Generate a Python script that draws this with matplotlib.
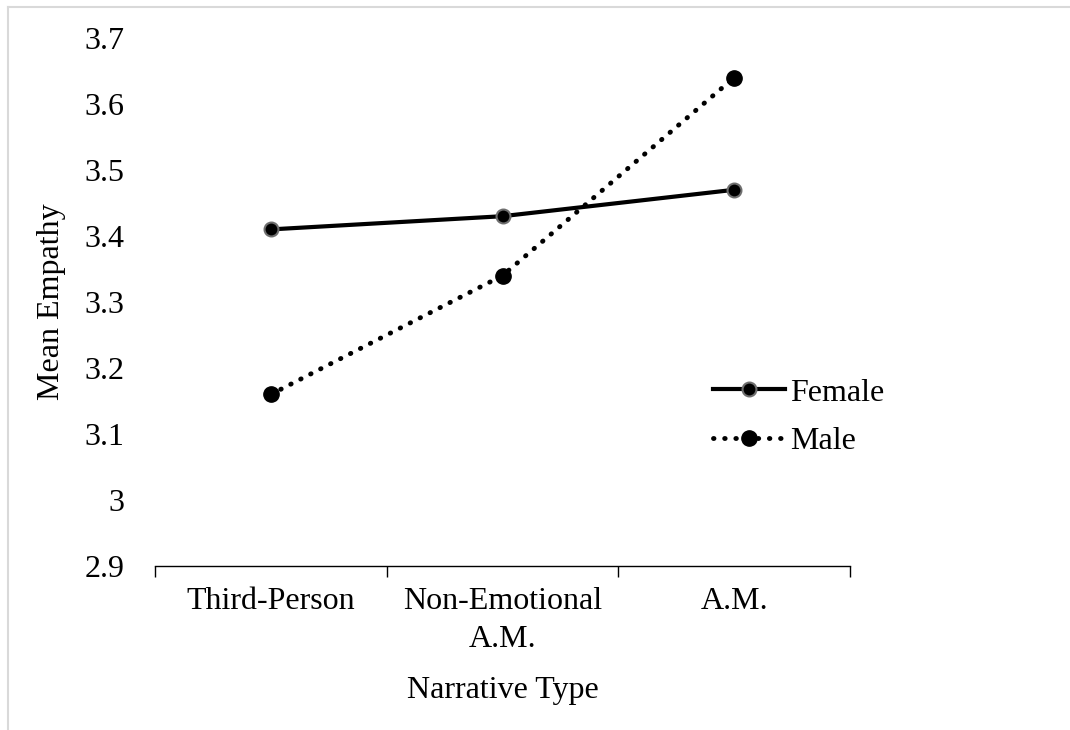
import matplotlib
matplotlib.use("Agg")
import matplotlib.pyplot as plt
from matplotlib.lines import Line2D

categories = ["Third-Person", "Non-Emotional\nA.M.", "A.M."]
female = [3.41, 3.43, 3.47]
male = [3.16, 3.34, 3.64]
y_ticks = [2.9, 3.0, 3.1, 3.2, 3.3, 3.4, 3.5, 3.6, 3.7]
y_tick_labels = ["2.9", "3", "3.1", "3.2", "3.3", "3.4", "3.5", "3.6", "3.7"]

plt.rcParams['font.family'] = ['Liberation Serif', 'DejaVu Serif']
fs = 23

fig = plt.figure(figsize=(10.7, 7.3), dpi=100)
ax = fig.add_axes([155 / 1070, 1 - 566 / 730, 695 / 1070, 528 / 730])

x = list(range(len(categories)))
ax.plot(x, female, color="black", lw=3, marker="o", ms=10,
        mfc="black", mec="#6e6e6e", mew=1.5, label="Female")
ax.plot(x, male, color="black", lw=3.5, ls=(0, (0.1, 2.2)),
        dash_capstyle="round", marker="o", ms=11,
        mfc="black", mec="black", label="Male")

ax.set_xlim(-0.5, len(categories) - 0.5)
ax.set_ylim(2.9, 3.7)
ax.set_yticks(y_ticks)
ax.set_yticklabels(y_tick_labels)
ax.tick_params(axis="y", length=0, pad=22, labelsize=fs)

ax.set_xticks(x)
ax.set_xticklabels(categories, linespacing=1.4)
ax.set_xticks([i - 0.5 for i in range(len(categories) + 1)], minor=True)
ax.tick_params(axis="x", which="major", length=0, pad=15, labelsize=fs)
ax.tick_params(axis="x", which="minor", length=8, width=1, direction="out")

for s in ["top", "right", "left"]:
    ax.spines[s].set_visible(False)
ax.spines["bottom"].set_linewidth(1)

ax.set_ylabel("Mean Empathy", fontsize=fs, labelpad=13)
ax.set_xlabel("Narrative Type", fontsize=fs, labelpad=16)

ax.legend(loc="center left", bbox_to_anchor=(0.803, 0.282), frameon=False,
          fontsize=fs, handlelength=2.25, handletextpad=0.15, labelspacing=0.6,
          borderpad=0, borderaxespad=0)

# light border around the picture
fig.add_artist(Line2D([8 / 1070, 8 / 1070], [0, 1 - 7 / 730], color="#d9d9d9", lw=1.5))
fig.add_artist(Line2D([8 / 1070, 1], [1 - 7 / 730, 1 - 7 / 730], color="#d9d9d9", lw=1.5))

fig.savefig("out.png", dpi=100)
